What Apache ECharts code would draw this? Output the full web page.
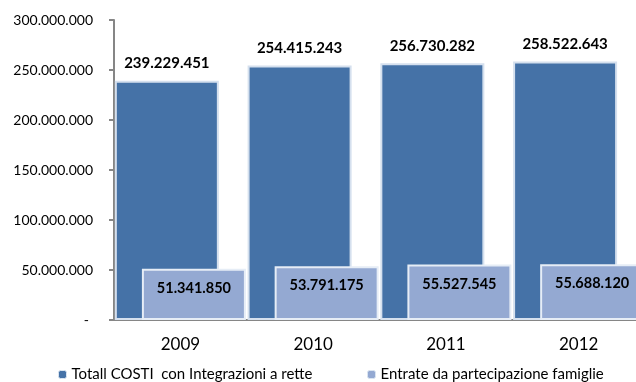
<!DOCTYPE html>
<html>
<head>
<meta charset="utf-8">
<script src="https://cdn.jsdelivr.net/npm/echarts@6/dist/echarts.min.js"></script>
<style>
html,body{margin:0;padding:0;background:#fff;}
#chart{width:636px;height:382px;}
</style>
</head>
<body>
<div id="chart"></div>
<script>
var categories = ['2009', '2010', '2011', '2012'];
var seriesNames = ['Totall COSTI  con Integrazioni a rette', 'Entrate da partecipazione famiglie'];
var totaliCosti = [239229451, 254415243, 256730282, 258522643];
var entrateFamiglie = [51341850, 53791175, 55527545, 55688120];
var yTicks = [0, 50000000, 100000000, 150000000, 200000000, 250000000, 300000000];

var FONT = 'Lato';
function fmt(v) {
  return String(Math.round(v)).replace(/\B(?=(\d{3})+(?!\d))/g, '.');
}

var chart = echarts.init(document.getElementById('chart'), null, {renderer: 'canvas'});
chart.setOption({
  animation: false,
  textStyle: {fontFamily: FONT},
  grid: {left: 114, top: 20, height: 300, width: 531, containLabel: false, outerBoundsMode: 'none'},
  legend: [
    {data: [seriesNames[0]], left: 53, top: 362, itemWidth: 8, itemHeight: 8, itemGap: 5,
     textStyle: {fontFamily: FONT, fontSize: 15, color: '#000'},
     itemStyle: {borderWidth: 1, borderColor: '#dbe5f1'}},
    {data: [seriesNames[1]], left: 362, top: 362, itemWidth: 8, itemHeight: 8, itemGap: 5,
     textStyle: {fontFamily: FONT, fontSize: 15, color: '#000'},
     itemStyle: {borderWidth: 1, borderColor: '#dbe5f1'}}
  ],
  xAxis: {
    type: 'category',
    data: categories,
    axisLine: {lineStyle: {color: '#868686', width: 2}},
    axisTick: {show: false},
    axisLabel: {fontFamily: FONT, fontSize: 17, color: '#000', margin: 16}
  },
  yAxis: {
    type: 'value',
    min: yTicks[0],
    max: yTicks[yTicks.length - 1],
    interval: yTicks[1] - yTicks[0],
    axisLine: {show: true, lineStyle: {color: '#868686', width: 2}},
    axisTick: {show: true, length: 5, lineStyle: {color: '#868686', width: 2}},
    splitLine: {show: false},
    axisLabel: {
      fontFamily: FONT, fontSize: 14, color: '#000', margin: 21,
      formatter: function (v) { return v === 0 ? '{z|-}' : fmt(v); },
      rich: {z: {fontFamily: FONT, fontSize: 14, color: '#000', padding: [0, 4, 0, 0]}}
    }
  },
  series: [
    {
      name: seriesNames[0],
      type: 'bar',
      data: totaliCosti,
      barWidth: 104,
      barGap: '-74%',
      itemStyle: {color: '#4572a7', borderColor: '#d5e0ee', borderWidth: 2},
      label: {show: true, position: 'top', distance: 10, fontFamily: FONT, fontSize: 15,
              fontWeight: 'bold', color: '#000', formatter: function (p) { return fmt(p.value); }}
    },
    {
      name: seriesNames[1],
      type: 'bar',
      data: entrateFamiglie,
      barWidth: 104,
      itemStyle: {color: '#94a9d2', borderColor: '#e6edf6', borderWidth: 2},
      label: {show: true, position: 'insideTop', distance: 12, fontFamily: FONT, fontSize: 14.5,
              fontWeight: 'bold', color: '#000', formatter: function (p) { return fmt(p.value); }}
    }
  ]
});
</script>
</body>
</html>
